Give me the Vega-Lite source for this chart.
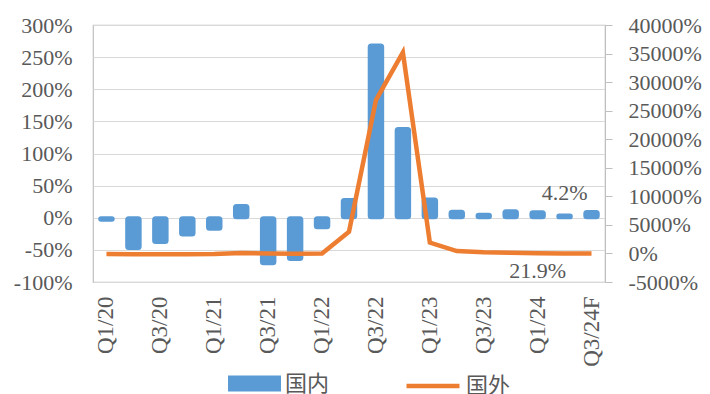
{
  "$schema": "https://vega.github.io/schema/vega-lite/v6.json",
  "width": 512,
  "height": 257,
  "autosize": {"type": "none"},
  "padding": {"left": 93, "top": 25, "right": 105, "bottom": 112},
  "background": "white",
  "config": {
    "view": {"stroke": "#bfbfbf", "strokeWidth": 1.2},
    "axis": {
      "labelFont": "Liberation Serif",
      "labelFontSize": 22,
      "labelColor": "#595959",
      "labelOverlap": false,
      "title": null
    }
  },
  "data": {
    "values": [
      {"q": "Q1/20", "dom": -4, "intl": -90},
      {"q": "Q2/20", "dom": -48, "intl": -120},
      {"q": "Q3/20", "dom": -38.5, "intl": -130},
      {"q": "Q4/20", "dom": -27, "intl": -120},
      {"q": "Q1/21", "dom": -18, "intl": -100},
      {"q": "Q2/21", "dom": 19, "intl": 60},
      {"q": "Q3/21", "dom": -71.7, "intl": -20},
      {"q": "Q4/21", "dom": -65, "intl": -60},
      {"q": "Q1/22", "dom": -15.6, "intl": -30},
      {"q": "Q2/22", "dom": 28.4, "intl": 3800},
      {"q": "Q3/22", "dom": 269, "intl": 26860},
      {"q": "Q4/22", "dom": 139, "intl": 35200},
      {"q": "Q1/23", "dom": 29, "intl": 1900},
      {"q": "Q2/23", "dom": 10, "intl": 420},
      {"q": "Q3/23", "dom": 5.5, "intl": 200},
      {"q": "Q4/23", "dom": 10.8, "intl": 100},
      {"q": "Q1/24", "dom": 9.3, "intl": 21.9},
      {"q": "Q2/24", "dom": 4.2, "intl": 10},
      {"q": "Q3/24F", "dom": 9.7, "intl": 5}
    ]
  },
  "encoding": {
    "x": {
      "field": "q",
      "type": "nominal",
      "sort": null,
      "scale": {"paddingInner": 0.5, "paddingOuter": 0.25},
      "axis": {
        "values": ["Q1/20", "Q3/20", "Q1/21", "Q3/21", "Q1/22", "Q3/22", "Q1/23", "Q3/23", "Q1/24", "Q3/24F"],
        "labelAngle": -90,
        "labelFontSize": 23,
        "ticks": false,
        "domain": false,
        "labelPadding": 14
      }
    }
  },
  "layer": [
    {
      "layer": [
        {
          "mark": {
            "type": "bar",
            "color": "#5b9bd5",
            "stroke": "#5b9bd5",
            "strokeWidth": 3,
            "strokeJoin": "round",
            "cornerRadius": 2
          },
          "encoding": {
            "y": {
              "field": "dom",
              "type": "quantitative",
              "scale": {"domain": [-100, 300], "nice": false, "zero": false},
              "axis": {
                "orient": "left",
                "values": [-100, -50, 0, 50, 100, 150, 200, 250, 300],
                "labelExpr": "datum.value + '%'",
                "labelOverlap": false,
                "grid": true,
                "gridColor": "#d9d9d9",
                "gridWidth": 1.2,
                "domain": false,
                "ticks": false,
                "labelPadding": 21
              }
            },
            "color": {
              "datum": "国内",
              "scale": {"range": ["#5b9bd5"]},
              "legend": {
                "orient": "none",
                "legendX": 135,
                "legendY": 332,
                "title": null,
                "symbolType": "M-1,-0.3H1V0.3H-1Z",
                "symbolSize": 2809,
                "symbolStrokeWidth": 0,
                "symbolOpacity": 1,
                "labelFont": "Noto Sans CJK SC",
                "labelFontSize": 22,
                "labelColor": "#595959",
                "labelOffset": 4
              }
            }
          }
        },
        {
          "transform": [
            {"filter": "datum.q == 'Q2/24'"},
            {"calculate": "format(datum.dom, '.1f') + '%'", "as": "lab"}
          ],
          "mark": {
            "type": "text",
            "font": "Liberation Serif",
            "fontSize": 22,
            "color": "#595959",
            "dy": -22
          },
          "encoding": {
            "y": {
              "field": "dom",
              "type": "quantitative",
              "scale": {"domain": [-100, 300], "nice": false, "zero": false},
              "axis": {
                "orient": "left",
                "values": [-100, -50, 0, 50, 100, 150, 200, 250, 300],
                "labelExpr": "datum.value + '%'",
                "labelOverlap": false,
                "grid": true,
                "gridColor": "#d9d9d9",
                "gridWidth": 1.2,
                "domain": false,
                "ticks": false,
                "labelPadding": 21
              }
            },
            "text": {"field": "lab"}
          }
        }
      ]
    },
    {
      "layer": [
        {
          "mark": {
            "type": "line",
            "strokeWidth": 4.5,
            "strokeJoin": "miter",
            "strokeCap": "butt"
          },
          "encoding": {
            "y": {
              "field": "intl",
              "type": "quantitative",
              "scale": {"domain": [-5000, 40000], "nice": false, "zero": false},
              "axis": {
                "orient": "right",
                "values": [-5000, 0, 5000, 10000, 15000, 20000, 25000, 30000, 35000, 40000],
                "labelExpr": "datum.value + '%'",
                "labelOverlap": false,
                "grid": false,
                "domain": true,
                "domainColor": "#bfbfbf",
                "ticks": true,
                "tickColor": "#bfbfbf",
                "tickSize": 7,
                "labelPadding": 16
              }
            },
            "color": {
              "datum": "国外",
              "scale": {"range": ["#ed7d31"]},
              "legend": {
                "orient": "none",
                "legendX": 311,
                "legendY": 332,
                "title": null,
                "symbolType": "stroke",
                "symbolSize": 2809,
                "symbolStrokeWidth": 4.5,
                "symbolOpacity": 1,
                "labelFont": "Noto Sans CJK SC",
                "labelFontSize": 22,
                "labelColor": "#595959",
                "labelOffset": 4
              }
            }
          }
        },
        {
          "transform": [
            {"filter": "datum.q == 'Q1/24'"},
            {"calculate": "format(datum.intl, '.1f') + '%'", "as": "lab"}
          ],
          "mark": {
            "type": "text",
            "font": "Liberation Serif",
            "fontSize": 22,
            "color": "#595959",
            "dy": 18
          },
          "encoding": {
            "y": {
              "field": "intl",
              "type": "quantitative",
              "scale": {"domain": [-5000, 40000], "nice": false, "zero": false},
              "axis": {
                "orient": "right",
                "values": [-5000, 0, 5000, 10000, 15000, 20000, 25000, 30000, 35000, 40000],
                "labelExpr": "datum.value + '%'",
                "labelOverlap": false,
                "grid": false,
                "domain": true,
                "domainColor": "#bfbfbf",
                "ticks": true,
                "tickColor": "#bfbfbf",
                "tickSize": 7,
                "labelPadding": 16
              }
            },
            "text": {"field": "lab"}
          }
        }
      ]
    }
  ],
  "resolve": {"scale": {"y": "independent", "color": "independent"}}
}
